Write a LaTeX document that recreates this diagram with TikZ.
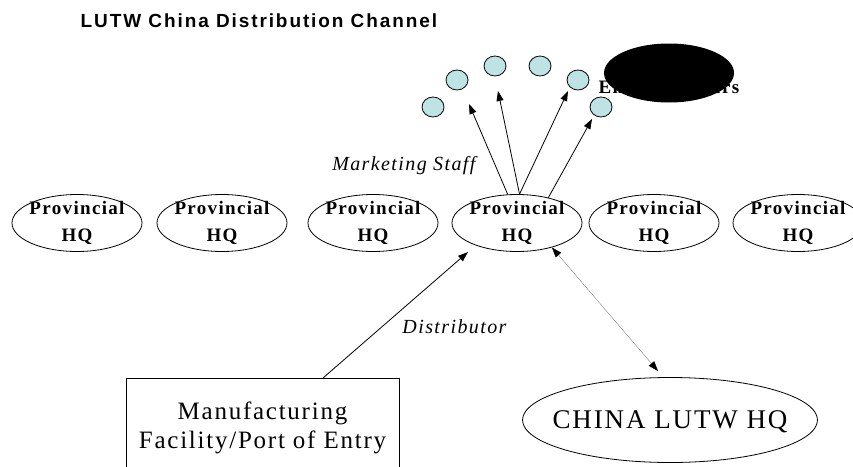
\documentclass[tikz,border=0pt]{standalone}
\usepackage{fontspec}
\setmainfont{Liberation Serif}
\newfontfamily\titlefont[LetterSpace=10]{Liberation Sans}
\newfontfamily\boxfont[LetterSpace=7]{Liberation Serif}
\usepackage{tikz}
\usetikzlibrary{shapes.geometric, arrows.meta}
\definecolor{userblue}{RGB}{189,227,229}

\begin{document}
\begin{tikzpicture}[x=1pt, y=-1pt, >={Triangle[length=10pt, width=7pt]},
                    line width=0.8pt, node distance=145pt]
\tikzstyle{prov}=[ellipse, draw=black, minimum width=130pt, minimum height=57pt,
                    inner sep=-4pt, align=center,
                    font=\boxfont\bfseries\fontsize{19}{27}\selectfont]
\tikzstyle{user}=[ellipse, draw=black, fill=userblue, minimum width=22pt,
                    minimum height=20pt, inner sep=0pt]
\tikzstyle{lbl}=[font=\boxfont\itshape\fontsize{20}{24}\selectfont]
\tikzstyle{hqlink}=[draw=gray, thin,
                    {Triangle[color=black, length=10pt, width=7pt]}-{Triangle[color=black, length=10pt, width=7pt]}]
  \path[use as bounding box, clip] (0,0) rectangle (853,466);
  \node[anchor=base west, font=\titlefont\bfseries\fontsize{19}{23}\selectfont] (title) at (77,27) {LUTW China Distribution Channel};
  % provincial offices
  \node[prov] (p1) at (77,223) {Provincial\\HQ};
  \node[prov] (p2) [right of=p1] {Provincial\\HQ};
  \node[prov] (p3) [right of=p2, node distance=151pt] {Provincial\\HQ};
  \node[prov] (p4) [right of=p3, node distance=144pt] {Provincial\\HQ};
  \node[prov] (p5) [right of=p4, node distance=137pt] {Provincial\\HQ};
  \node[prov] (p6) [right of=p5, node distance=144pt] {Provincial\\HQ};
  % end users
  \node[user] (u1) at (433,107) {};
  \node[user] (u2) at (457,80) {};
  \node[user] (u3) at (495,66) {};
  \node[user] (u4) at (540,66) {};
  \node[user] (u5) at (578,80) {};
  \node[user] (u6) at (601,107) {};
  \node[font=\boxfont\bfseries\fontsize{19}{23}\selectfont] (endlbl) at (669,87) {End Customers};
  \node[ellipse, fill=black, minimum width=130pt, minimum height=59pt, inner sep=0pt] (blot) at (669,73) {};
  % head office and plant
  \node[ellipse, draw=black, minimum width=295pt, minimum height=85pt, inner sep=-20pt,
        text depth=0pt, font=\boxfont\fontsize{27}{31}\selectfont] (china) at (670,420) {CHINA LUTW HQ};
  \node[rectangle, draw=black, anchor=north, minimum width=273pt, inner xsep=0pt,
        inner ysep=23pt, text depth=50pt, align=center,
        font=\boxfont\fontsize{25}{29}\selectfont] (mfg) at (262.5,378) {Manufacturing\\Facility/Port of Entry};
  \coordinate (t1) at (469,104);
  \coordinate (t2) at (498,91);
  \coordinate (t3) at (568,91);
  \coordinate (t4) at (592,119);
  \coordinate (dtip) at (468,252);
  \coordinate (dbase) at ([xshift=60.5pt]mfg.north);
  \path[->] (p4.108) edge node[lbl, xshift=-84.5pt, yshift=-16pt] {Marketing Staff} (t1);
  \path[->] (p4.85)  edge (t2);
  \path[->] (p4.85)  edge (t3);
  \path[->] (p4.39)  edge (t4);
  \path[->] (dbase)  edge node[lbl, xshift=59pt, yshift=-12pt] {Distributor} (dtip);
  \path     (p4.-35) edge[hqlink, shorten >=8pt] (china.99);
\end{tikzpicture}
\end{document}
